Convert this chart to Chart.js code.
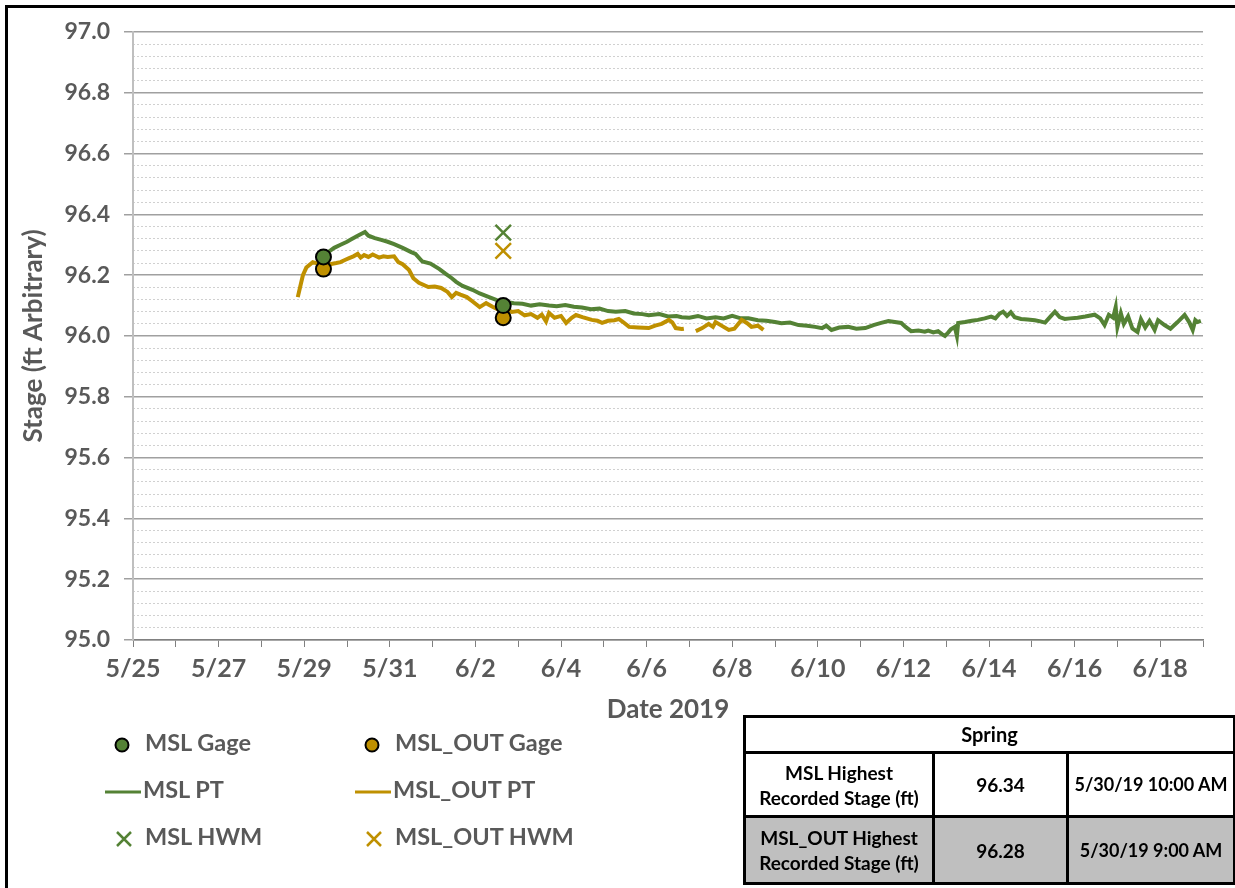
<!DOCTYPE html>
<html>
<head>
<meta charset="utf-8">
<script src="https://cdn.jsdelivr.net/npm/chart.js@4/dist/chart.umd.min.js"></script>
<style>
  body { margin: 0; background: #fff; overflow: hidden; font-family: Lato, "Open Sans", sans-serif; }
  #wrap { position: relative; width: 1235px; height: 888px; }
  #frame { position: absolute; left: 5px; top: 5px; width: 1250px; height: 900px; border: 3px solid #000; }
  #myChart { position: absolute; left: 0; top: 0; }
  .leg { position: absolute; color: #595959; font-weight: bold; font-size: 23.5px; line-height: 26px; white-space: nowrap; }
  .leg canvas { vertical-align: middle; }
  #tbl { position: absolute; left: 743px; top: 715px; width: 490px; height: 170px; border-collapse: collapse; table-layout: fixed; font-weight: bold; font-size: 19px; color: #000; text-align: center; }
  #tbl td { border: 3px solid #000; padding: 0; line-height: 25px; white-space: nowrap; overflow: hidden; }
  #tbl td.dt { font-size: 18px; }
  #tbl tr.grey td { background: #bfbfbf; }
</style>
</head>
<body>
<div id="wrap">
  <div id="frame"></div>
  <canvas id="myChart" width="1235" height="888"></canvas>
  <div id="legend"></div>
  <table id="tbl">
    <colgroup><col style="width:189px"><col style="width:134px"><col style="width:167px"></colgroup>
    <tr style="height:36px"><td colspan="3" style="font-size:20px">Spring</td></tr>
    <tr style="height:64px"><td>MSL Highest<br>Recorded Stage (ft)</td><td>96.34</td><td class="dt">5/30/19 10:00 AM</td></tr>
    <tr class="grey"><td>MSL_OUT Highest<br>Recorded Stage (ft)</td><td>96.28</td><td class="dt">5/30/19 9:00 AM</td></tr>
  </table>
</div>
<script>
// x values are days after 5/25/2019 00:00
var mslGageDay = [4.45, 8.65];
var mslGageStage = [96.26, 96.10];
var mslOutGageDay = [4.45, 8.65];
var mslOutGageStage = [96.22, 96.06];
var mslHwmDay = [8.65];
var mslHwmStage = [96.34];
var mslOutHwmDay = [8.65];
var mslOutHwmStage = [96.28];

var mslPtDay = [4.45, 4.55, 4.7, 4.85, 5.0, 5.1, 5.25, 5.42, 5.5, 5.65, 5.8, 5.95, 6.1, 6.3, 6.5, 6.6, 6.76, 6.95, 7.16, 7.3,
  7.45, 7.55, 7.7, 7.93, 8.1, 8.32, 8.5, 8.72, 8.9, 9.1, 9.3, 9.5, 9.72, 9.9, 10.1, 10.3, 10.49, 10.7, 10.9, 11.1,
  11.28, 11.5, 11.7, 11.9, 12.05, 12.3, 12.5, 12.7, 12.82, 13.0, 13.2, 13.4, 13.61, 13.8, 14.0, 14.2, 14.38, 14.6, 14.8, 15.0,
  15.15, 15.35, 15.55, 15.75, 15.94, 16.1, 16.2, 16.32, 16.5, 16.71, 16.9, 17.11, 17.3, 17.48, 17.65, 17.8, 17.95, 18.05, 18.18, 18.35,
  18.5, 18.58, 18.7, 18.81, 18.9, 18.97, 19.05, 19.11, 19.2, 19.25, 19.28, 19.44, 19.6, 19.74, 19.9, 20.05, 20.15, 20.25, 20.33, 20.42,
  20.51, 20.6, 20.75, 20.9, 21.07, 21.2, 21.31, 21.45, 21.54, 21.65, 21.77, 21.9, 22.07, 22.25, 22.47, 22.6, 22.7, 22.8, 22.9, 22.96,
  23.0, 23.08, 23.15, 23.25, 23.35, 23.47, 23.55, 23.65, 23.75, 23.87, 23.95, 24.1, 24.24, 24.4, 24.57, 24.68, 24.76, 24.82, 24.87, 24.95];
var mslPtStage = [96.26, 96.275, 96.29, 96.30, 96.31, 96.318, 96.33, 96.342, 96.33, 96.322, 96.316, 96.31, 96.302, 96.29, 96.276, 96.27, 96.245, 96.238, 96.22, 96.205,
  96.19, 96.178, 96.165, 96.152, 96.14, 96.128, 96.118, 96.112, 96.108, 96.106, 96.10, 96.104, 96.10, 96.098, 96.102, 96.096, 96.094, 96.088, 96.09, 96.082,
  96.08, 96.082, 96.074, 96.072, 96.068, 96.072, 96.064, 96.066, 96.062, 96.06, 96.066, 96.058, 96.062, 96.058, 96.066, 96.058, 96.058, 96.052, 96.05, 96.046,
  96.042, 96.044, 96.036, 96.034, 96.03, 96.026, 96.034, 96.02, 96.028, 96.03, 96.024, 96.026, 96.036, 96.043, 96.049, 96.046, 96.043, 96.03, 96.016, 96.018,
  96.014, 96.018, 96.012, 96.016, 96.006, 96.0, 96.012, 96.022, 96.03, 96.0, 96.043, 96.046, 96.05, 96.053, 96.058, 96.064, 96.058, 96.074, 96.08, 96.066,
  96.078, 96.062, 96.056, 96.054, 96.052, 96.048, 96.044, 96.066, 96.08, 96.062, 96.056, 96.058, 96.06, 96.064, 96.07, 96.058, 96.036, 96.07, 96.06, 96.095,
  96.03, 96.075, 96.04, 96.065, 96.025, 96.013, 96.055, 96.028, 96.05, 96.02, 96.052, 96.036, 96.024, 96.045, 96.069, 96.045, 96.02, 96.052, 96.046, 96.05];

var mslOutPtDay = [3.85, 3.92, 3.97, 4.05, 4.2, 4.32, 4.45, 4.6, 4.75, 4.85, 4.95, 5.05, 5.15, 5.25, 5.32, 5.4, 5.5, 5.6, 5.75, 5.85,
  5.95, 6.1, 6.2, 6.3, 6.45, 6.55, 6.68, 6.9, 7.05, 7.2, 7.35, 7.45, 7.55, 7.65, 7.8, 7.95, 8.1, 8.25, 8.4, 8.55,
  8.65, 8.72, 8.85, 9.0, 9.15, 9.3, 9.45, 9.55, 9.65, 9.72, 9.85, 10.0, 10.12, 10.25, 10.35, 10.5, 10.6, 10.72, 10.85, 10.96,
  11.1, 11.25, 11.35, 11.45, 11.59, 11.8, 12.05, 12.2, 12.35, 12.52, 12.6, 12.68, 12.82, 12.87, 13.0, 13.15, 13.3, 13.45, 13.55, 13.61,
  13.75, 13.92, 14.05, 14.22, 14.35, 14.45, 14.6, 14.73];
var mslOutPtStage = [96.128, 96.17, 96.2, 96.225, 96.243, 96.238, 96.234, 96.236, 96.24, 96.243, 96.25, 96.256, 96.262, 96.27, 96.258, 96.266, 96.26, 96.268, 96.258, 96.262,
  96.26, 96.262, 96.243, 96.236, 96.217, 96.19, 96.175, 96.161, 96.163, 96.158, 96.145, 96.128, 96.142, 96.136, 96.128, 96.112, 96.095, 96.108, 96.096, 96.086,
  96.07, 96.09, 96.079, 96.082, 96.068, 96.072, 96.06, 96.07, 96.048, 96.076, 96.06, 96.066, 96.043, 96.06, 96.069, 96.062, 96.058, 96.053, 96.05, 96.043,
  96.05, 96.052, 96.056, 96.046, 96.03, 96.028, 96.026, 96.034, 96.04, 96.053, 96.045, 96.026, 96.023, 96.024, null, 96.016, 96.026, 96.04, 96.03, 96.046,
  96.034, 96.02, 96.024, 96.053, 96.042, 96.03, 96.034, 96.02];

var yTicks = { min: 95.0, max: 97.0, major: 0.2, minor: 0.04 };
var xDays = { min: 0, max: 25 };

var GREEN = "#548235";
var GOLD = "#BF9000";
var TEXT = "#595959";

function pts(xs, ys) {
  return xs.map(function (x, i) { return { x: x, y: ys[i] }; });
}

function dayLabel(d) {
  if (d < 7) return "5/" + (25 + d);
  return "6/" + (d - 6);
}

function isMajor(v) {
  var k = (v - yTicks.min) / yTicks.major;
  return Math.abs(k - Math.round(k)) < 1e-6;
}

var datasets = [
  { label: "MSL Gage", data: pts(mslGageDay, mslGageStage), showLine: false, pointStyle: "circle", pointRadius: 7.5,
    backgroundColor: GREEN, borderColor: "#000", pointBorderWidth: 2, order: 0 },
  { label: "MSL_OUT Gage", data: pts(mslOutGageDay, mslOutGageStage), showLine: false, pointStyle: "circle", pointRadius: 7.5,
    backgroundColor: GOLD, borderColor: "#000", pointBorderWidth: 2, order: 0 },
  { label: "MSL PT", data: pts(mslPtDay, mslPtStage), showLine: true, borderColor: GREEN, borderWidth: 4, pointRadius: 0, tension: 0, order: 3 },
  { label: "MSL_OUT PT", data: pts(mslOutPtDay, mslOutPtStage), showLine: true, borderColor: GOLD, borderWidth: 4, pointRadius: 0, tension: 0, spanGaps: false, order: 2 },
  { label: "MSL HWM", data: pts(mslHwmDay, mslHwmStage), showLine: false, pointStyle: "crossRot", pointRadius: 11,
    borderColor: GREEN, pointBorderWidth: 2.5, order: 1 },
  { label: "MSL_OUT HWM", data: pts(mslOutHwmDay, mslOutHwmStage), showLine: false, pointStyle: "crossRot", pointRadius: 11,
    borderColor: GOLD, pointBorderWidth: 2.5, order: 1 }
];

var font = { family: "Lato, 'Open Sans', sans-serif", weight: "bold" };

var chart = new Chart(document.getElementById("myChart").getContext("2d"), {
  type: "scatter",
  data: { datasets: datasets },
  options: {
    responsive: false,
    animation: false,
    layout: { padding: { left: 16, top: 32, right: 32, bottom: 160 } },
    plugins: { legend: { display: false }, tooltip: { enabled: false } },
    scales: {
      x: {
        type: "linear",
        min: xDays.min,
        max: xDays.max,
        afterFit: function (s) { s.height = 88; },
        grid: { drawOnChartArea: false, drawTicks: true, tickLength: 7, tickColor: "#808080", tickWidth: 1 },
        border: { color: "#808080", width: 1.5 },
        ticks: {
          stepSize: 1, autoSkip: false, maxRotation: 0, padding: 7, color: TEXT,
          font: Object.assign({ size: 25 }, font),
          callback: function (v) { return v % 2 === 0 ? dayLabel(v) : ""; }
        },
        title: { display: true, text: "Date 2019", color: TEXT, font: Object.assign({ size: 26 }, font), padding: { top: 0, bottom: 3 } }
      },
      yMinor: {
        type: "linear",
        position: "left",
        min: yTicks.min,
        max: yTicks.max,
        afterFit: function (s) { s.width = 0; },
        ticks: { display: false, stepSize: yTicks.minor },
        grid: {
          drawTicks: false,
          color: function (c) { return isMajor(c.tick.value) ? "rgba(0,0,0,0)" : "#d0d0d0"; },
          lineWidth: 1
        },
        border: { display: false, dash: [2, 2] }
      },
      y: {
        type: "linear",
        position: "left",
        min: yTicks.min,
        max: yTicks.max,
        afterFit: function (s) { s.width = 117; },
        grid: { color: "#a0a0a0", lineWidth: 1.5, tickLength: 9, tickColor: "#a0a0a0" },
        border: { color: "#bfbfbf", width: 2 },
        ticks: {
          stepSize: yTicks.major, padding: 14, color: TEXT,
          font: Object.assign({ size: 23 }, font),
          callback: function (v) { return v.toFixed(1); }
        },
        title: { display: true, text: "Stage (ft Arbitrary)", color: TEXT, font: Object.assign({ size: 26 }, font), padding: { top: 2, bottom: 0 } }
      }
    }
  }
});

// legend built from the datasets, two columns like the original
function makeLegend() {
  var box = document.getElementById("legend");
  var cols = [105, 355];
  var rows = [729, 776, 823];
  datasets.forEach(function (ds, i) {
    var item = document.createElement("div");
    item.className = "leg";
    item.style.left = cols[i % 2] + "px";
    item.style.top = rows[Math.floor(i / 2)] + "px";
    var c = document.createElement("canvas");
    c.width = 36; c.height = 20;
    var g = c.getContext("2d");
    var col = ds.borderColor === "#000" ? ds.backgroundColor : ds.borderColor;
    if (ds.showLine === false && ds.pointStyle === "circle") {
      g.beginPath(); g.arc(17, 10, 6.5, 0, Math.PI * 2);
      g.fillStyle = col; g.fill(); g.lineWidth = 2; g.strokeStyle = "#000"; g.stroke();
      c.style.marginRight = "4px";
    } else if (ds.showLine === false) {
      g.strokeStyle = col; g.lineWidth = 2.5;
      g.beginPath(); g.moveTo(12, 3); g.lineTo(26, 17); g.moveTo(26, 3); g.lineTo(12, 17); g.stroke();
      c.style.marginRight = "4px";
    } else {
      g.strokeStyle = col; g.lineWidth = 3;
      g.beginPath(); g.moveTo(0, 10); g.lineTo(36, 10); g.stroke();
      c.style.marginRight = "2px";
    }
    item.appendChild(c);
    item.appendChild(document.createTextNode(ds.label));
    box.appendChild(item);
  });
}
makeLegend();
</script>
</body>
</html>
